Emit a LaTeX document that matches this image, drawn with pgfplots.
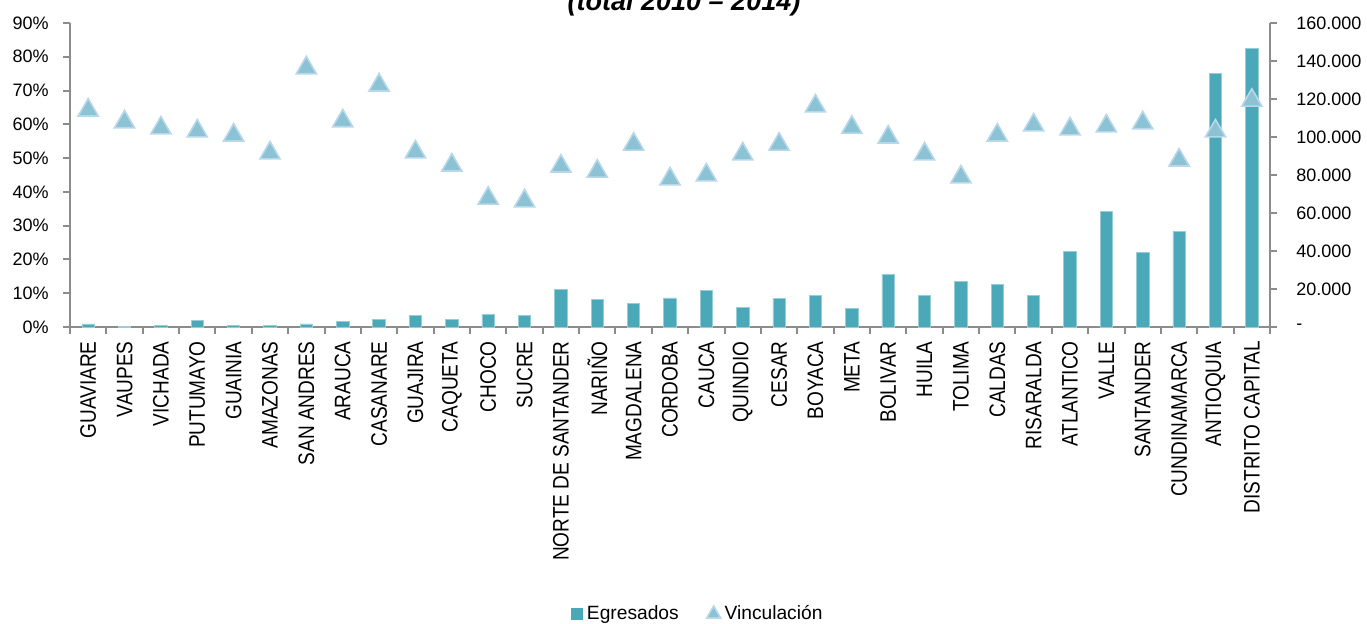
\documentclass[border=0pt]{standalone}
\usepackage{fontspec}
\setmainfont{Liberation Sans}
\newfontfamily\catfont{Liberation Sans}[FakeStretch=0.85]
\usepackage{pgfplots}
\usepackage{pgfplotstable}
\pgfplotsset{compat=1.18}

\definecolor{barc}{RGB}{74,168,184}
\definecolor{barline}{RGB}{150,205,215}
\definecolor{trif}{RGB}{139,195,212}
\definecolor{trid}{RGB}{185,215,235}
\definecolor{axc}{RGB}{140,140,140}

% idx, Egresados (thousands), Vinculacion (%)
\pgfplotstableread{
idx egr vinc
0 1.6 64.2
1 0.3 60.7
2 0.9 58.9
3 3.3 58.0
4 0.7 56.8
5 0.7 51.5
6 1.6 76.7
7 3.0 61.0
8 4.2 71.6
9 6.0 51.8
10 4.2 47.9
11 6.8 38.1
12 6.3 37.3
13 19.6 47.6
14 14.4 46.1
15 12.6 54.1
16 15.3 43.8
17 19.3 45.0
18 10.5 51.2
19 14.9 54.1
20 16.8 65.4
21 10.0 59.1
22 27.9 56.2
23 16.5 51.2
24 24.2 44.4
25 22.5 56.8
26 16.8 59.8
27 39.6 58.6
28 60.9 59.5
29 39.3 60.4
30 50.5 49.4
31 133.6 58.0
32 146.8 67.1
}\datatable

\begin{document}
\begin{tikzpicture}
\pgfplotsset{
  common/.style={
    scale only axis, width=600pt, height=152pt,
    xmin=-0.5, xmax=32.5, clip=false,
    axis line style={axc, line width=1pt},
    every tick/.style={axc, line width=1pt},
    tick align=outside, major tick length=3.5pt,
    tick label style={font=\fontsize{9}{11}\selectfont},
  }
}
% bars, right axis
\begin{axis}[common, name=ax,
  ymin=0, ymax=160,
  axis x line*=bottom, axis y line*=right,
  ytick={0,20,...,160},
  yticklabels={-,20.000,40.000,60.000,80.000,100.000,120.000,140.000,160.000},
  yticklabel style={anchor=west, inner xsep=0pt}, yticklabel shift=9.5pt,
  xtick={0,...,32},
  major x tick style={draw=none},
  minor xtick={-0.5,0.5,...,32.5},
  minor x tick style={axc, line width=1pt},
  minor tick length=3.5pt,
  xticklabels={GUAVIARE,VAUPES,VICHADA,PUTUMAYO,GUAINIA,AMAZONAS,SAN ANDRES,ARAUCA,CASANARE,GUAJIRA,CAQUETA,CHOCO,SUCRE,NORTE DE SANTANDER,NARIÑO,MAGDALENA,CORDOBA,CAUCA,QUINDIO,CESAR,BOYACA,META,BOLIVAR,HUILA,TOLIMA,CALDAS,RISARALDA,ATLANTICO,VALLE,SANTANDER,CUNDINAMARCA,ANTIOQUIA,DISTRITO CAPITAL},
  xticklabel style={rotate=90, anchor=east, inner xsep=0pt, font=\catfont\fontsize{11.2}{12}\selectfont},
  xticklabel shift=3.5pt,
]
\addplot[ybar, bar width=6.2pt, fill=barc, draw=barline, line width=0.4pt]
  table[x=idx, y=egr]{\datatable};
\end{axis}
% triangles, left axis
\begin{axis}[common,
  ymin=0, ymax=90,
  axis x line=none, axis y line*=left,
  ytick={0,10,...,90},
  yticklabels={0\%,10\%,20\%,30\%,40\%,50\%,60\%,70\%,80\%,90\%},
  yticklabel style={anchor=east, inner xsep=0pt}, yticklabel shift=7pt,
  legend style={draw=none, fill=none, at={(0.524,-0.944)}, anchor=center,
    legend columns=2, font=\fontsize{9.6}{11}\selectfont,
    /tikz/every even column/.append style={column sep=12pt}},
  legend cell align=left,
]
\addlegendimage{legend image code/.code={\fill[barc] (0pt,-2.75pt) rectangle (5.5pt,2.75pt);}}
\addplot[only marks, mark=triangle*, mark size=5.8pt,
  mark options={fill=trif, draw=trid, line width=0.8pt},
  legend image post style={mark size=4pt}]
  table[x=idx, y=vinc]{\datatable};
\legend{Egresados, Vinculación}
\end{axis}
\node[anchor=base, font=\fontsize{13.5}{15}\selectfont\bfseries\itshape]
  at ([xshift=307pt, yshift=6.25pt]ax.north west) {(total 2010 – 2014)};
\pgfresetboundingbox
\path[use as bounding box] ([xshift=-35pt, yshift=-148pt]ax.south west)
  rectangle ([xshift=48.5pt, yshift=11.5pt]ax.north east);
\end{tikzpicture}
\end{document}
